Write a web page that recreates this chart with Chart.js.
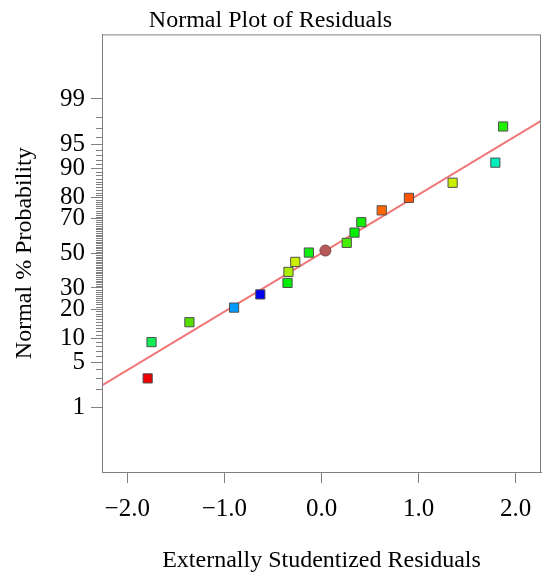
<!DOCTYPE html>
<html>
<head>
<meta charset="utf-8">
<script src="https://cdn.jsdelivr.net/npm/chart.js@4.4.1/dist/chart.umd.min.js"></script>
<style>
  html, body { margin: 0; padding: 0; background: #fff; }
  #wrap { width: 550px; height: 580px; }
</style>
</head>
<body>
<div id="wrap"><canvas id="myChart" width="550" height="580"></canvas></div>
<script>
// residuals
const residX = [-1.79, -1.75, -1.36, -0.90, -0.63, -0.35, -0.34, -0.27, -0.13,
                0.04, 0.26, 0.34, 0.41, 0.62, 0.90, 1.35, 1.79, 1.87];
// normal % probability of each residual
const residP = [2.95, 9.0, 14.9, 20.6, 26.7, 32.7, 38.9, 44.8, 50.4,
                51.6, 56.2, 62.2, 68.0, 74.1, 79.8, 85.6, 91.4, 97.2];
const pointColors = ['#ee0000', '#11ee55', '#55dd00', '#0099ff', '#0000ee', '#00ee00',
                     '#aaee00', '#ccee00', '#11ee11', '#b85a5a', '#44ee00', '#00ee00',
                     '#11ee00', '#ff6600', '#ff5500', '#ccee00', '#00eebb', '#22ee00'];
const pointShapes = ['rect', 'rect', 'rect', 'rect', 'rect', 'rect', 'rect', 'rect', 'rect',
                     'circle', 'rect', 'rect', 'rect', 'rect', 'rect', 'rect', 'rect', 'rect'];

// fitted normal line
const lineX = [-2.26, 2.26];
const lineP = [2.3, 97.7];

const xTicks = [-2, -1, 0, 1, 2];
const yTicks = [1, 5, 10, 20, 30, 50, 70, 80, 90, 95, 99];

// inverse normal cdf (Acklam)
function probit(p) {
    const a = [-39.69683028665376, 220.9460984245205, -275.9285104469687, 138.3577518672690, -30.66479806614716, 2.506628277459239];
    const b = [-54.47609879822406, 161.5858368580409, -155.6989798598866, 66.80131188771972, -13.28068155288572];
    const c = [-0.007784894002430293, -0.3223964580411365, -2.400758277161838, -2.549732539343734, 4.374664141464968, 2.938163982698783];
    const d = [0.007784695709041462, 0.3224671290700398, 2.445134137142996, 3.754408661907416];
    const pl = 0.02425;
    let q, r;
    if (p < pl) {
        q = Math.sqrt(-2 * Math.log(p));
        return (((((c[0] * q + c[1]) * q + c[2]) * q + c[3]) * q + c[4]) * q + c[5]) /
               ((((d[0] * q + d[1]) * q + d[2]) * q + d[3]) * q + 1);
    }
    if (p > 1 - pl) {
        q = Math.sqrt(-2 * Math.log(1 - p));
        return -(((((c[0] * q + c[1]) * q + c[2]) * q + c[3]) * q + c[4]) * q + c[5]) /
                ((((d[0] * q + d[1]) * q + d[2]) * q + d[3]) * q + 1);
    }
    q = p - 0.5;
    r = q * q;
    return (((((a[0] * r + a[1]) * r + a[2]) * r + a[3]) * r + a[4]) * r + a[5]) * q /
           (((((b[0] * r + b[1]) * r + b[2]) * r + b[3]) * r + b[4]) * r + 1);
}

const axisGray = '#808080';
const serif = 'Liberation Serif, Times New Roman, serif';

// box round the plot and the small 1% ticks on the probability axis
const frame = {
    id: 'frame',
    afterDraw(chart) {
        const ctx = chart.ctx;
        const a = chart.chartArea;
        const y = chart.scales.y;
        ctx.save();
        ctx.strokeStyle = axisGray;
        ctx.lineWidth = 1;
        ctx.strokeRect(a.left + 0.5, a.top + 0.5, a.right - a.left - 1, a.bottom - a.top);
        ctx.beginPath();
        for (let p = 1; p <= 99; p++) {
            if (yTicks.includes(p)) continue;
            const py = Math.round(y.getPixelForValue(probit(p / 100))) + 0.5;
            ctx.moveTo(a.left - 6, py);
            ctx.lineTo(a.left, py);
        }
        ctx.stroke();
        ctx.restore();
    }
};

const ctx = document.getElementById('myChart').getContext('2d');
const myChart = new Chart(ctx, {
    type: 'scatter',
    data: {
        datasets: [{
            label: 'Residuals',
            data: residX.map((x, i) => ({ x: x, y: probit(residP[i] / 100) })),
            backgroundColor: pointColors,
            borderColor: pointShapes.map(s => s === 'circle' ? '#7a4040' : '#505050'),
            borderWidth: 1,
            pointStyle: pointShapes,
            pointRadius: pointShapes.map(s => s === 'circle' ? 5.5 : 6.5),
            pointHoverRadius: 6.5
        }, {
            label: 'Normal line',
            data: lineX.map((x, i) => ({ x: x, y: probit(lineP[i] / 100) })),
            showLine: true,
            borderColor: '#f27575',
            borderWidth: 2,
            pointRadius: 0
        }]
    },
    options: {
        responsive: false,
        animation: false,
        layout: { padding: { left: 0, right: 9, top: 0, bottom: 0 } },
        plugins: {
            legend: { display: false },
            tooltip: { enabled: false },
            title: {
                display: true,
                text: 'Normal Plot of Residuals',
                color: '#000',
                font: { family: serif, size: 24, weight: 'normal', lineHeight: 1.1 },
                padding: { top: 8, bottom: 0 }
            }
        },
        scales: {
            x: {
                type: 'linear',
                min: -2.26,
                max: 2.26,
                afterBuildTicks: scale => { scale.ticks = xTicks.map(v => ({ value: v })); },
                afterFit: scale => { scale.height = 108; },
                ticks: {
                    color: '#000',
                    font: { family: serif, size: 25 },
                    padding: 11,
                    maxRotation: 0,
                    callback: v => (v < 0 ? '\u2212' : '') + Math.abs(v).toFixed(1)
                },
                grid: { drawOnChartArea: false, tickLength: 11, color: axisGray },
                border: { color: axisGray },
                title: {
                    display: true,
                    text: 'Externally Studentized Residuals',
                    color: '#000',
                    font: { family: serif, size: 24, lineHeight: 1.1 },
                    padding: { top: 0, bottom: 6 }
                }
            },
            y: {
                type: 'linear',
                min: -3.3,
                max: 3.3,
                afterBuildTicks: scale => { scale.ticks = yTicks.map(p => ({ value: probit(p / 100) })); },
                afterFit: scale => { scale.width = 102; },
                ticks: {
                    color: '#000',
                    font: { family: serif, size: 25 },
                    padding: 6,
                    callback: (v, i) => String(yTicks[i])
                },
                grid: { drawOnChartArea: false, tickLength: 11, color: axisGray },
                border: { color: axisGray },
                title: {
                    display: true,
                    text: 'Normal % Probability',
                    color: '#000',
                    font: { family: serif, size: 24, lineHeight: 1.1 },
                    padding: { top: 12, bottom: 0 }
                }
            }
        }
    },
    plugins: [frame]
});
</script>
</body>
</html>
